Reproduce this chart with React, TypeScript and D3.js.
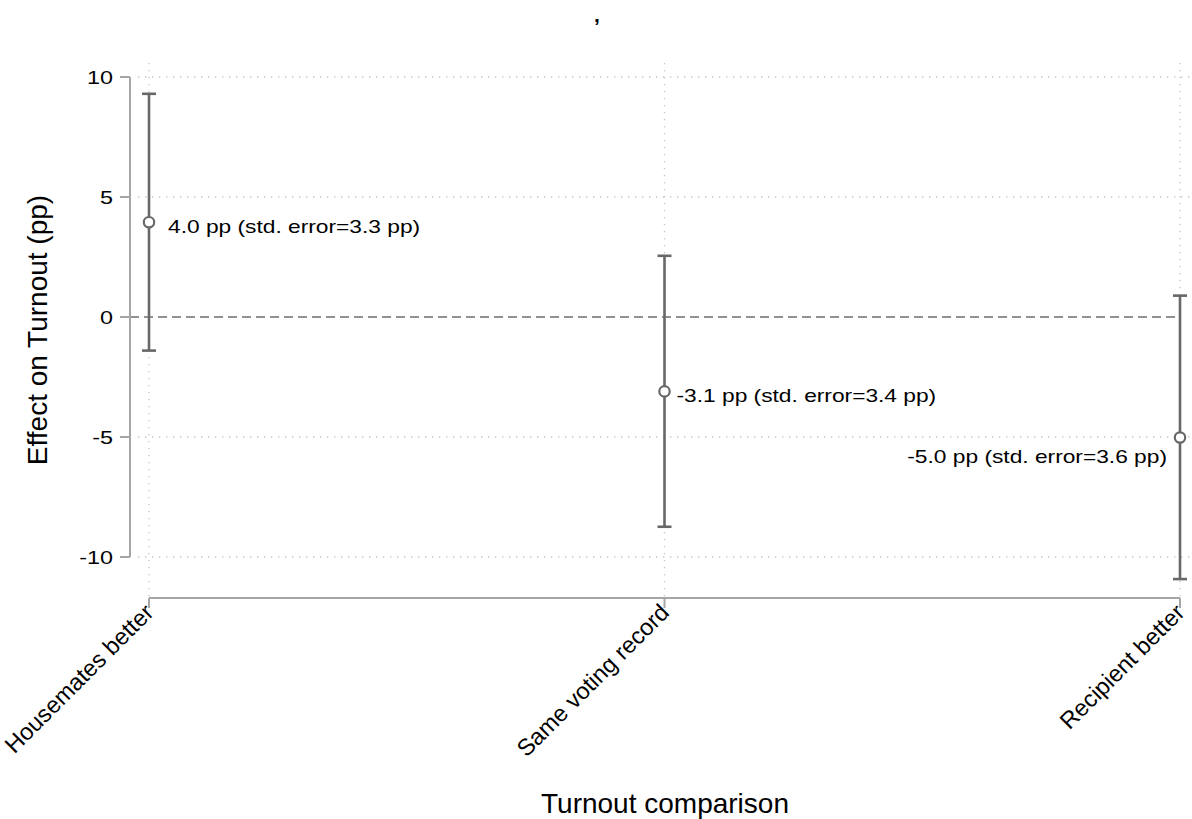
import React from 'react';
import * as d3 from 'd3';

// comparison groups and estimates (pp)
const categories = ['Housemates better', 'Same voting record', 'Recipient better'];
const estimates = [3.95, -3.1, -5.02];
const lowerCI = [-1.4, -8.74, -10.92];
const upperCI = [9.3, 2.55, 0.89];
const stdErrors = [3.3, 3.4, 3.6];
const labelClock = [3, 3, 7]; // stata-style marker label position
const yTicks = [-10, -5, 0, 5, 10];

const W = 1192;
const H = 819;
const FONT = 'Arial, "Liberation Sans", sans-serif';
const stretch = 1.23; // text in the source is slightly wide

const fmt = (v: number) => d3.format('.1f')(v).replace('\u2212', '-');

const App = () => {
  const x = d3.scalePoint<string>().domain(categories).range([149, 1180]);
  const y = d3.scaleLinear().domain([-10, 10]).range([557, 77]);

  const plotTop = 63;
  const plotBottom = 598;
  const plotLeft = 130;
  const plotRight = 1190;

  return (
    <svg width={W} height={H} style={{ position: 'absolute', left: 0, top: 0, background: '#fff' }} fontFamily={FONT}>
      {/* title (just a stray comma) */}
      <text x={597} y={22} fontSize={21} fontWeight="bold" textAnchor="middle" fill="#000">,</text>

      {/* grid */}
      <g stroke="#c4c4c4" strokeWidth={1.3} strokeDasharray="1.3 5.7">
        {yTicks.filter(t => t !== 0).map(t => (
          <line key={'h' + t} x1={plotLeft + 8} x2={plotRight} y1={y(t)} y2={y(t)} />
        ))}
        {categories.map(c => (
          <line key={'v' + c} x1={x(c)} x2={x(c)} y1={plotTop} y2={plotBottom} />
        ))}
      </g>

      {/* zero reference line */}
      <line x1={plotLeft} x2={x(categories[2])} y1={y(0)} y2={y(0)} stroke="#6e6e6e" strokeWidth={1.6} strokeDasharray="9 5" />

      {/* y axis */}
      <g>
        <line x1={plotLeft} x2={plotLeft} y1={y(10)} y2={y(-10)} stroke="#a6a6a6" strokeWidth={2} />
        {yTicks.map(t => (
          <g key={t} transform={`translate(0,${y(t)})`}>
            <line x1={plotLeft - 10} x2={plotLeft} stroke="#a6a6a6" strokeWidth={2} />
            <text x={113} dy="0.36em" textAnchor="end" fontSize={19} fill="#000"
              transform={`translate(113,0) scale(${stretch},1) translate(-113,0)`}>{t}</text>
          </g>
        ))}
      </g>

      {/* x axis */}
      <g>
        <line x1={x(categories[0])} x2={x(categories[2])} y1={plotBottom} y2={plotBottom} stroke="#a6a6a6" strokeWidth={2} />
        {categories.map(c => (
          <g key={c} transform={`translate(${x(c)},${plotBottom})`}>
            <line y1={0} y2={10} stroke="#a6a6a6" strokeWidth={2} />
            <text transform="translate(6,16) rotate(-45)" textAnchor="end" fontSize={23.5} fill="#000">{c}</text>
          </g>
        ))}
      </g>

      {/* error bars */}
      <g stroke="#686868" strokeWidth={2.6} fill="none">
        {categories.map((c, i) => (
          <g key={c}>
            <line x1={x(c)} x2={x(c)} y1={y(upperCI[i])} y2={y(lowerCI[i])} />
            <line x1={x(c)! - 7} x2={x(c)! + 7} y1={y(upperCI[i])} y2={y(upperCI[i])} />
            <line x1={x(c)! - 7} x2={x(c)! + 7} y1={y(lowerCI[i])} y2={y(lowerCI[i])} />
          </g>
        ))}
      </g>

      {/* point estimates */}
      {categories.map((c, i) => (
        <circle key={c} cx={x(c)} cy={y(estimates[i])} r={5.2} fill="#fff" stroke="#686868" strokeWidth={2.2} />
      ))}

      {/* marker labels */}
      {categories.map((c, i) => {
        const px = x(c)!;
        const py = y(estimates[i]);
        const right = labelClock[i] === 3;
        const lx = right ? px + (i === 0 ? 19 : 12) : px - 13;
        const ly = right ? py + 4 : py + 19;
        const txt = `${fmt(estimates[i])} pp (std. error=${fmt(stdErrors[i])} pp)`;
        return (
          <text key={c} x={lx} y={ly} dy="0.36em" fontSize={18.5} fill="#000"
            textAnchor={right ? 'start' : 'end'}
            transform={`translate(${lx},0) scale(${stretch},1) translate(${-lx},0)`}>{txt}</text>
        );
      })}

      {/* axis titles */}
      <text transform="translate(47,330) rotate(-90)" textAnchor="middle" fontSize={28} fill="#000">Effect on Turnout (pp)</text>
      <text x={665} y={813} textAnchor="middle" fontSize={28} fill="#000">Turnout comparison</text>
    </svg>
  );
};

export default App;
